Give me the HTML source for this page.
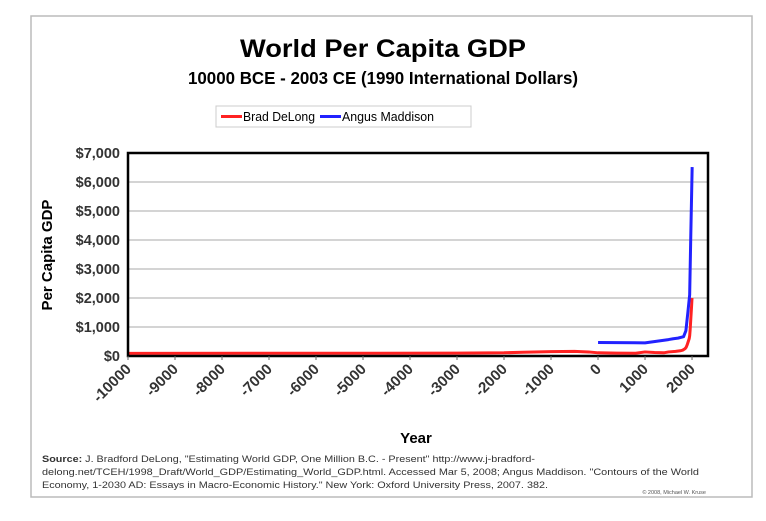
<!DOCTYPE html>
<html><head><meta charset="utf-8"><style>
body{margin:0;background:#fff;width:766px;height:516px;overflow:hidden;font-family:"Liberation Sans",Arial,sans-serif}
</style></head><body>
<svg width="766" height="516" xmlns="http://www.w3.org/2000/svg">
<rect x="31" y="16" width="721" height="481" fill="#fff" stroke="#bbb" stroke-width="1.5"/>
<text x="383" y="57" text-anchor="middle" font-size="25" font-weight="bold" textLength="286" lengthAdjust="spacingAndGlyphs">World Per Capita GDP</text>
<text x="383" y="84" text-anchor="middle" font-size="17.5" font-weight="bold" textLength="390" lengthAdjust="spacingAndGlyphs">10000 BCE - 2003 CE (1990 International Dollars)</text>
<g>
<rect x="216" y="106" width="255" height="21" fill="#fff" stroke="#ccc"/>
<line x1="221" y1="116.5" x2="242" y2="116.5" stroke="#f22" stroke-width="3"/>
<text x="243" y="121" font-size="13" textLength="72" lengthAdjust="spacingAndGlyphs">Brad DeLong</text>
<line x1="320" y1="116.5" x2="341" y2="116.5" stroke="#22f" stroke-width="3"/>
<text x="342" y="121" font-size="13" textLength="92" lengthAdjust="spacingAndGlyphs">Angus Maddison</text>
</g>
<g id="grid"></g>
<g id="series"></g>
<rect x="128" y="153" width="580" height="203" fill="none" stroke="#000" stroke-width="2.5"/>
<g id="axes"></g>
<text transform="translate(52,255) rotate(-90)" text-anchor="middle" font-size="15" font-weight="bold">Per Capita GDP</text>
<text x="416" y="443" text-anchor="middle" font-size="15" font-weight="bold">Year</text>
<g font-size="9" fill="#333" lengthAdjust="spacingAndGlyphs">
<text x="42" y="462" textLength="493" lengthAdjust="spacingAndGlyphs"><tspan font-weight="bold">Source:</tspan> J. Bradford DeLong, "Estimating World GDP, One Million B.C. - Present" http://www.j-bradford-</text>
<text x="42" y="475" textLength="657" lengthAdjust="spacingAndGlyphs">delong.net/TCEH/1998_Draft/World_GDP/Estimating_World_GDP.html. Accessed Mar 5, 2008; Angus Maddison. "Contours of the World</text>
<text x="42" y="488" textLength="506" lengthAdjust="spacingAndGlyphs">Economy, 1-2030 AD: Essays in Macro-Economic History." New York: Oxford University Press, 2007. 382.</text>
</g>
<text x="706" y="494" text-anchor="end" font-size="5.5" fill="#555">© 2008, Michael W. Kruse</text>
</svg>
<script>
const yTicks=[0,1000,2000,3000,4000,5000,6000,7000];
const xTicks=[-10000,-9000,-8000,-7000,-6000,-5000,-4000,-3000,-2000,-1000,0,1000,2000];
const delongYears=[-10000,-5000,-3000,-2000,-1600,-1000,-500,-200,1,400,800,1000,1200,1400,1500,1650,1750,1800,1850,1875,1900,1920,1940,1950,1960,1975,1990,2000];
const delongValues=[90,95,100,110,130,150,160,140,110,100,95,140,120,110,140,160,180,200,250,300,400,500,600,700,900,1300,1700,2000];
const maddisonYears=[1,1000,1500,1600,1700,1820,1870,1913,1950,1973,2003];
const maddisonValues=[467,453,566,596,616,667,873,1526,2111,4091,6516];
const NS='http://www.w3.org/2000/svg';
const L=128,R=708,T=153,B=356,XMIN=-10000,XMAX=2340,YMAX=7000;
const sx=v=>L+(v-XMIN)/(XMAX-XMIN)*(R-L);
const sy=v=>B-v/YMAX*(B-T);
function mk(tag,attrs,parent){const e=document.createElementNS(NS,tag);for(const k in attrs)e.setAttribute(k,attrs[k]);parent.appendChild(e);return e;}
const grid=document.getElementById('grid'),axes=document.getElementById('axes'),series=document.getElementById('series');
yTicks.forEach(v=>{
 const g=mk('line',{x1:L,x2:R,y1:sy(v),y2:sy(v),stroke:'#bbb','stroke-width':1.2},grid);
 
 
 const t=mk('text',{x:L-8,y:sy(v)+5,'text-anchor':'end','font-size':14.5,fill:'#333','font-weight':'bold'},axes);
 t.textContent='$'+v.toLocaleString('en-US');
 
 
});
xTicks.forEach(v=>{
 const x=sx(v);
 mk('line',{x1:x,x2:x,y1:B,y2:B+4,stroke:'#666'},axes);
 const t=mk('text',{transform:`translate(${x+4},${B+14}) rotate(-45)`,'text-anchor':'end','font-size':15,fill:'#333','font-weight':'bold'},axes);
 t.textContent=String(v);
 
 
});
function line(xs,ys,color,name){
 const p=mk('polyline',{points:xs.map((x,i)=>sx(x)+','+sy(ys[i])).join(' '),fill:'none',stroke:color,'stroke-width':3,'stroke-linejoin':'round'},series);
 
 
}
line(delongYears,delongValues,'#f22','series-delong');
line(maddisonYears,maddisonValues,'#22f','series-maddison');
</script>
</body></html>
